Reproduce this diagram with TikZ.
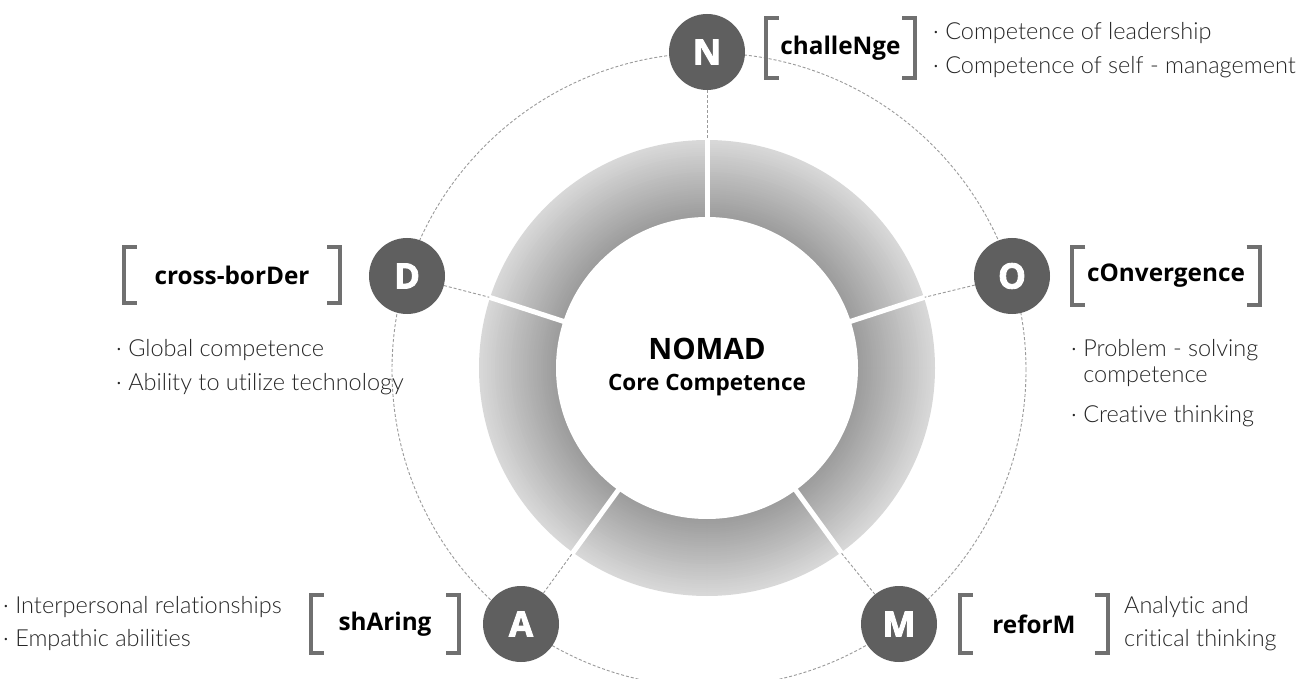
\documentclass[tikz,border=0pt]{standalone}
\usepackage{fontspec}
\IfFontExistsTF{Lato Light}{\setmainfont{Lato Light}[Ligatures=NoCommon]}{\setmainfont{Lato}[Ligatures=NoCommon]}
\newfontfamily\labf{Open Sans}
\newfontfamily\heavyfam{Open Sans}[BoldFeatures={FakeBold=2.5}]
\newcommand\heavyf{\heavyfam\bfseries}
\usetikzlibrary{calc}
\definecolor{circ}{HTML}{5F5F5F}
\definecolor{brkc}{HTML}{707070}
\definecolor{ringdark}{HTML}{9A9A9A}
\definecolor{ringlight}{HTML}{D8D8D8}
\definecolor{dashc}{HTML}{9A9A9A}
\definecolor{txt}{HTML}{262626}
\newcommand\drawbrackets[1]{%
  \draw[brkline] ([xshift=13pt]#1.north west) -| (#1.south west) -- ++(13pt,0pt);
  \draw[brkline] ([xshift=-13pt]#1.north east) -| (#1.south east) -- ++(-13pt,0pt);}
\begin{document}
\begin{tikzpicture}[x=1pt,y=-1pt,
  letter/.style={circle, fill=circ, minimum size=76pt, inner sep=0pt, text=white, font=\heavyf\fontsize{35}{35}\selectfont},
  lab/.style={inner sep=0pt, text=black, font=\labf\bfseries\fontsize{24.3}{26}\selectfont},
  brkline/.style={draw=brkc, line width=4pt, line join=miter},
  body/.style={anchor=west, inner sep=0pt, text=txt, font=\fontsize{23.5}{26}\selectfont},
  dashline/.style={draw=dashc, line width=0.9pt, dash pattern=on 3pt off 2pt},
  gap/.style={draw=white, line width=5pt}]
\useasboundingbox (0,0) rectangle (1310,679);
\fill[white] (0,0) rectangle (1310,679);
% outer dashed circle
\coordinate (OC) at (709,370);
\draw[dashline] (OC) circle[radius=317pt];
% ring with radial gradient (light outside, darker inside)
\coordinate (C) at (707,368);
\foreach \i in {0,...,39}{
  \pgfmathsetmacro\rr{228-2*\i}
  \pgfmathtruncatemacro\pp{100*\i/39}
  \fill[ringdark!\pp!ringlight] (C) circle[radius=\rr pt];
}
\fill[white] (C) circle[radius=151pt];
\foreach \a/\n in {90/N,18/O,-54/M,-126/A,162/D}{
  \draw[gap] ($(C)+(-\a:148)$) -- ($(C)+(-\a:232)$);
  \coordinate (r\n) at ($(C)+(-\a:229)$);
}
\node[font=\labf\bfseries\fontsize{29.5}{32}\selectfont] (nomad) at (707,349) {NOMAD};
\node[font=\labf\bfseries\fontsize{22.5}{26}\selectfont] (core) at (707,385) {Core Competence};
% letter circles
\node[letter] (N) at (707,52) {N};
\node[letter] (O) at (1012,276) {O};
\node[letter] (M) at (899,624) {M};
\node[letter] (A) at (521,624) {A};
\node[letter] (D) at (407,276) {D};
\foreach \n in {N,O,M,A,D}{ \draw[dashline] (\n) -- (r\n); }
% labels with brackets
\node[lab, minimum width=149pt, minimum height=60pt] (lN) at (840.5,48) {challeNge};
\node[lab, minimum width=216pt, minimum height=55pt] (lD) at (232,275) {cross-borDer};
\node[lab, minimum width=187pt, minimum height=57pt] (lO) at (1166,276) {cOnvergence};
\node[lab, minimum width=148pt, minimum height=58pt] (lA) at (385,624) {shAring};
\node[lab, minimum width=148pt, minimum height=57pt] (lM) at (1034,624) {reforM};
\foreach \n in {lN,lD,lO,lA,lM}{ \drawbrackets{\n} }
% body text
\node[body] (n1) at (933,33) {· Competence of leadership};
\node[body] (n2) at (933,67) {· Competence of self - management};
\node[body] (d1) at (116,350) {· Global competence};
\node[body] (d2) at (116,384) {· Ability to utilize technology};
\node[body] (o1) at (1071,350) {· Problem - solving};
\node[body] (o2) at (1071,377) {\phantom{· }competence};
\node[body] (o3) at (1071,416) {· Creative thinking};
\node[body] (a1) at (3,607) {· Interpersonal relationships};
\node[body] (a2) at (3,640) {· Empathic abilities};
\node[body] (m1) at (1124,607) {Analytic and};
\node[body] (m2) at (1124,640) {critical thinking};
\end{tikzpicture}
\end{document}
